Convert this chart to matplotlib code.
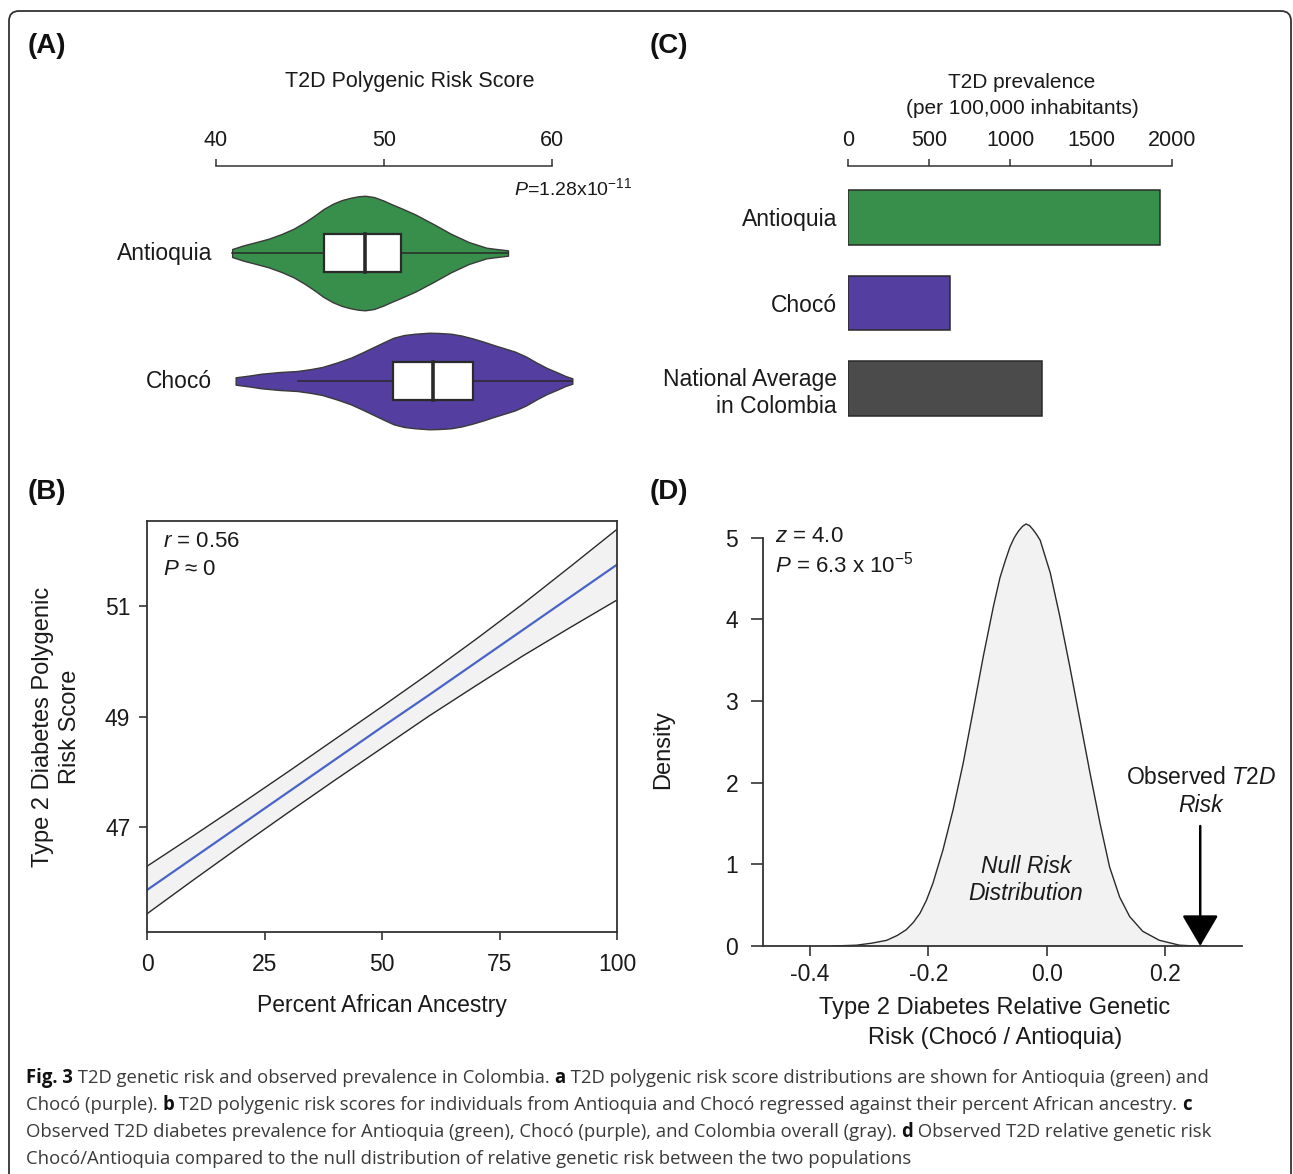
import matplotlib
matplotlib.use("Agg")
import matplotlib.pyplot as plt
from matplotlib.patches import FancyBboxPatch

plt.rcParams["font.family"] = ["Liberation Sans", "DejaVu Sans"]
plt.rcParams["mathtext.fontset"] = "custom"
plt.rcParams["mathtext.rm"] = "Liberation Sans"
plt.rcParams["mathtext.it"] = "Liberation Sans:italic"
plt.rcParams["mathtext.bf"] = "Liberation Sans:bold"
plt.rcParams["text.color"] = "#1a1a1a"
plt.rcParams["axes.edgecolor"] = "#333333"
plt.rcParams["xtick.color"] = "#333333"
plt.rcParams["ytick.color"] = "#333333"
plt.rcParams["xtick.labelcolor"] = "#1a1a1a"
plt.rcParams["ytick.labelcolor"] = "#1a1a1a"

# ---- panel A: violin profiles (score, half height)
groups = ["Antioquia", "Chocó"]
ant_x = [40.96, 41.64, 42.4, 43.13, 43.9, 44.62, 45.3, 45.89, 46.4, 46.96, 47.5, 48.02,
         48.45, 48.87, 49.4, 49.94, 50.5, 51.0, 51.85, 52.91, 53.98, 55.04, 56.1, 56.8, 57.38]
ant_w = [4.0, 7.7, 11.0, 14.3, 19.0, 24.3, 31.0, 37.7, 44.0, 49.3, 53.0, 55.3,
         56.7, 57.3, 56.0, 52.7, 48.5, 45.0, 38.7, 29.3, 19.3, 11.0, 5.3, 3.8, 2.7]
cho_x = [41.17, 42.0, 42.7, 43.8, 44.83, 45.6, 46.32, 47.2, 48.02, 48.7, 49.3, 49.95,
         50.57, 51.2, 51.85, 52.7, 53.3, 53.98, 54.6, 55.26, 55.9, 56.53, 57.2, 57.81,
         58.45, 59.09, 59.7, 60.36, 60.8, 61.21]
cho_w = [3.7, 5.5, 7.3, 9.0, 10.0, 11.8, 14.0, 18.5, 23.3, 28.5, 33.3, 38.5,
         43.3, 46.0, 47.3, 48.3, 48.0, 47.3, 45.5, 42.7, 39.5, 36.0, 32.5, 29.3,
         24.5, 18.3, 13.0, 8.3, 5.0, 2.7]
box_q1 = [46.4, 50.51]
box_med = [48.87, 52.91]
box_q3 = [51.0, 55.32]
whisk_lo = [40.96, 44.87]
whisk_hi = [57.38, 61.21]
violin_colors = ["#388E4B", "#543FA0"]

# ---- panel B: regression line and confidence band
pct_x = [0, 10, 20, 30, 40, 50, 60, 70, 80, 90, 100]
fit_y = [45.86, 46.45, 47.04, 47.63, 48.22, 48.81, 49.39, 49.98, 50.57, 51.16, 51.75]
ci_hi = [46.29, 46.85, 47.42, 48.00, 48.59, 49.18, 49.78, 50.40, 51.04, 51.71, 52.39]
ci_lo = [45.43, 46.05, 46.66, 47.26, 47.85, 48.43, 49.01, 49.56, 50.10, 50.61, 51.11]

# ---- panel C: prevalence bars
regions = ["Antioquia", "Chocó", "National Average\nin Colombia"]
prevalence = [1925, 630, 1200]
bar_colors = ["#388E4B", "#543FA0", "#4B4B4B"]

# ---- panel D: null distribution density
dens_x = [-0.36, -0.321, -0.295, -0.270, -0.252, -0.237, -0.225, -0.214, -0.203, -0.192,
          -0.175, -0.158, -0.141, -0.124, -0.107, -0.090, -0.079, -0.070, -0.062, -0.055,
          -0.048, -0.041, -0.035, -0.029, -0.023, -0.017, -0.011, 0.006, 0.022, 0.039,
          0.056, 0.073, 0.090, 0.106, 0.123, 0.140, 0.162, 0.190, 0.224, 0.25, 0.27]
dens_y = [0.0, 0.01, 0.035, 0.07, 0.13, 0.20, 0.29, 0.40, 0.56, 0.77,
          1.18, 1.67, 2.24, 2.89, 3.55, 4.16, 4.51, 4.72, 4.89, 5.00,
          5.08, 5.14, 5.17, 5.15, 5.10, 5.04, 4.97, 4.57, 4.04, 3.42,
          2.77, 2.12, 1.50, 0.97, 0.60, 0.36, 0.18, 0.07, 0.01, 0.0, 0.0]
observed_risk = 0.259

W, H = 1293, 1174
fig = plt.figure(figsize=(W / 100, H / 100), dpi=100)
fig.patch.set_facecolor("white")


def add_ax(x0, y0, x1, y1):
    return fig.add_axes([x0 / W, 1 - y1 / H, (x1 - x0) / W, (y1 - y0) / H])


def ftext(x, y, s, **kw):
    return fig.text(x / W, 1 - y / H, s, **kw)


# outer frame
frame = FancyBboxPatch((0.09, -0.5), 12.82, 11.63 + 0.5,
                       boxstyle="round,pad=0,rounding_size=0.1",
                       transform=fig.dpi_scale_trans, fill=False,
                       ec="#333333", lw=1.3)
fig.add_artist(frame)

for lab, x, y in [("(A)", 28, 46), ("(C)", 650, 46), ("(B)", 28, 492), ("(D)", 650, 492)]:
    ftext(x, y, lab, fontsize=20, fontweight="bold", ha="left", va="center", color="#111111")

# ================= panel A
axA = add_ax(200, 166, 600, 440)
axA.set_xlim(40 + (200 - 216) / 16.8, 40 + (600 - 216) / 16.8)
axA.set_ylim(1.461, -0.680)
for s in ["left", "right", "bottom"]:
    axA.spines[s].set_visible(False)
axA.spines["top"].set_bounds(40, 60)
axA.spines["top"].set_linewidth(1.1)
axA.xaxis.tick_top()
axA.set_xticks([40, 50, 60])
axA.tick_params(axis="x", direction="out", length=5, width=1.1, pad=6, labelsize=15.5)
axA.set_yticks([])
axA.set_facecolor("none")

profiles = [(ant_x, ant_w), (cho_x, cho_w)]
for i, (px, pw) in enumerate(profiles):
    hw = [w / 128 for w in pw]
    axA.fill_between(px, [i - h for h in hw], [i + h for h in hw],
                     facecolor=violin_colors[i], edgecolor="#3a3a3a", lw=1.0, zorder=2)
    axA.plot([whisk_lo[i], whisk_hi[i]], [i, i], color="#2a2a2a", lw=1.1, zorder=3)
    axA.barh(i, box_q3[i] - box_q1[i], left=box_q1[i], height=0.297,
             color="white", edgecolor="#2a2a2a", lw=1.6, zorder=4)
    axA.plot([box_med[i], box_med[i]], [i - 0.1485, i + 0.1485], color="#2a2a2a",
             lw=2.6, zorder=5)
    axA.text(39.76, i, groups[i], ha="right", va="center", fontsize=16.5)

ftext(410, 82, "T2D Polygenic Risk Score", ha="center", va="center", fontsize=15.5)
ftext(632, 188, r"$P$=1.28x10$^{-11}$", ha="right", va="center", fontsize=14)

# ================= panel C
axC = add_ax(848, 166, 1172, 430)
axC.barh(range(len(regions)), prevalence, height=0.643, color=bar_colors,
         edgecolor="#2a2a2a", lw=1.1)
axC.set_xlim(0, 2000)
axC.set_ylim(2.485, -0.602)
for s in ["left", "right", "bottom"]:
    axC.spines[s].set_visible(False)
axC.spines["top"].set_linewidth(1.1)
axC.xaxis.tick_top()
axC.set_xticks([0, 500, 1000, 1500, 2000])
axC.tick_params(axis="x", direction="out", length=5, width=1.1, pad=6, labelsize=15.5)
axC.set_yticks(range(len(regions)))
axC.set_yticklabels(regions, fontsize=16.5, ha="right")
axC.tick_params(axis="y", length=0, pad=8)
ftext(1022, 82, "T2D prevalence", ha="center", va="center", fontsize=15)
ftext(1022, 108, "(per 100,000 inhabitants)", ha="center", va="center", fontsize=15)

# ================= panel B
axB = add_ax(147, 521, 617, 932)
axB.fill_between(pct_x, ci_lo, ci_hi, color="#F2F2F2", lw=0)
axB.plot(pct_x, ci_hi, color="#2a2a2a", lw=1.0)
axB.plot(pct_x, ci_lo, color="#2a2a2a", lw=1.0)
axB.plot(pct_x, fit_y, color="#4A63C8", lw=1.6)
axB.set_xlim(0, 100)
axB.set_ylim(45.1, 52.54)
axB.set_xticks([0, 25, 50, 75, 100])
axB.set_yticks([47, 49, 51])
for s in axB.spines.values():
    s.set_linewidth(1.3)
axB.tick_params(direction="out", length=6, width=1.2, labelsize=16.5)
axB.tick_params(axis="x", pad=9)
axB.tick_params(axis="y", pad=6)
axB.text(0.034, 0.949, r"$r$ = 0.56", transform=axB.transAxes, fontsize=16, va="center")
axB.text(0.034, 0.883, r"$P$ ≈ 0", transform=axB.transAxes, fontsize=16, va="center")
axB.text(0.5, -0.18, "Percent African Ancestry", transform=axB.transAxes,
         ha="center", va="center", fontsize=16.5)
axB.text(-0.192, 0.5, "Type 2 Diabetes Polygenic\nRisk Score", transform=axB.transAxes,
         rotation=90, ha="center", va="center", fontsize=17, linespacing=1.3)

# ================= panel D
axD = add_ax(763.3, 515, 1241.7, 946)
axD.fill_between(dens_x, 0, dens_y, color="#F2F2F2", lw=0)
axD.plot(dens_x, dens_y, color="#2a2a2a", lw=1.0)
axD.set_xlim(-0.4783, 0.329)
axD.set_ylim(0, 5.28)
axD.spines["top"].set_visible(False)
axD.spines["right"].set_visible(False)
axD.spines["left"].set_bounds(0, 5)
for s in ["left", "bottom"]:
    axD.spines[s].set_linewidth(1.3)
axD.set_xticks([-0.4, -0.2, 0.0, 0.2])
axD.set_xticklabels(["-0.4", "-0.2", "0.0", "0.2"])
axD.set_yticks([0, 1, 2, 3, 4, 5])
axD.tick_params(direction="out", width=1.2, labelsize=16.5)
axD.tick_params(axis="y", length=9, pad=9)
axD.tick_params(axis="x", length=7, pad=5)
axD.text(0.025, 0.949, r"$z$ = 4.0", transform=axD.transAxes, fontsize=16, va="center")
axD.text(0.025, 0.884, r"$P$ = 6.3 x 10$^{-5}$", transform=axD.transAxes, fontsize=16,
         va="center")
axD.text(-0.035, 0.81, "Null Risk\nDistribution", ha="center", va="center",
         fontsize=16.5, style="italic", linespacing=1.25)
axD.annotate("", xy=(observed_risk, 0), xytext=(observed_risk, 1.47),
             arrowprops=dict(arrowstyle="-|>,head_length=0.97,head_width=0.57",
                             mutation_scale=20, lw=1.8, color="black",
                             shrinkA=0, shrinkB=0), annotation_clip=False)
ftext(1201, 778, r"Observed $\mathit{T2D}$", ha="center", va="center", fontsize=16.5)
ftext(1201, 806, "Risk", ha="center", va="center", fontsize=16.5, style="italic")
axD.text(-0.21, 0.455, "Density", transform=axD.transAxes, rotation=90,
         ha="center", va="center", fontsize=17)
ftext(995, 1008, "Type 2 Diabetes Relative Genetic", ha="center", va="center", fontsize=17)
ftext(995, 1038, "Risk (Chocó / Antioquia)", ha="center", va="center", fontsize=17)

# ================= caption
caption = [
    [("Fig. 3", True), (" T2D genetic risk and observed prevalence in Colombia. ", False),
     ("a", True), (" T2D polygenic risk score distributions are shown for Antioquia (green) and", False)],
    [("Chocó (purple). ", False), ("b", True),
     (" T2D polygenic risk scores for individuals from Antioquia and Chocó regressed against their percent African ancestry. ", False),
     ("c", True)],
    [("Observed T2D diabetes prevalence for Antioquia (green), Chocó (purple), and Colombia overall (gray). ", False),
     ("d", True), (" Observed T2D relative genetic risk", False)],
    [("Chocó/Antioquia compared to the null distribution of relative genetic risk between the two populations", False)],
]
cap_size = 13.35
renderer = fig.canvas.get_renderer()


def advance(s, bold):
    w = "bold" if bold else "normal"
    t1 = fig.text(0, 0, "X" + s + "X", fontsize=cap_size, family="Open Sans", fontweight=w)
    t2 = fig.text(0, 0, "XX", fontsize=cap_size, family="Open Sans", fontweight=w)
    d = t1.get_window_extent(renderer).width - t2.get_window_extent(renderer).width
    t1.remove()
    t2.remove()
    return d


for k, line in enumerate(caption):
    x = 26
    y = 1078 + 27 * k
    for s, bold in line:
        ftext(x, y, s, fontsize=cap_size, family="Open Sans",
              fontweight="bold" if bold else "normal",
              color="#111111" if bold else "#3a3a3a", ha="left", va="center")
        x += advance(s, bold)

fig.savefig("out.png", dpi=100, facecolor="white")
